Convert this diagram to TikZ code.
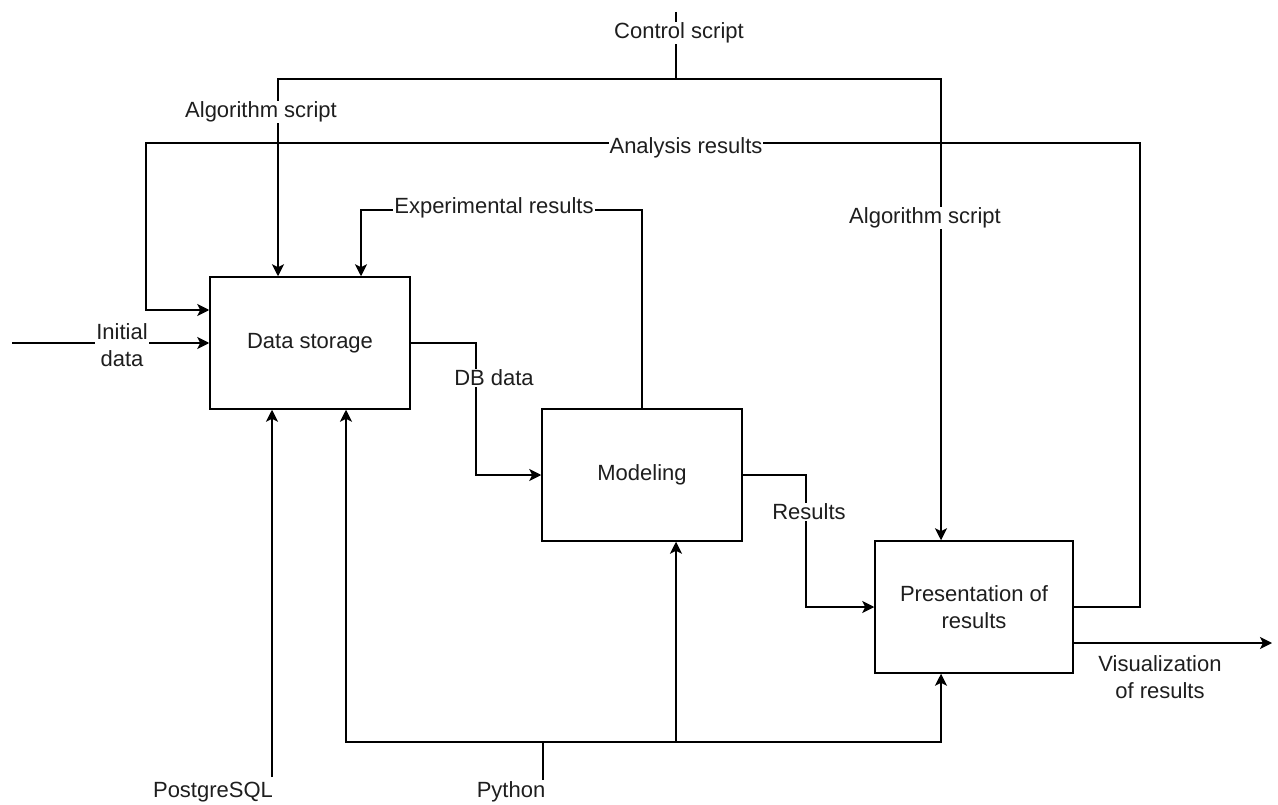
\documentclass[tikz,border=0pt]{standalone}
\usepackage{fontspec}
\setmainfont{Liberation Sans}
\usetikzlibrary{arrows.meta}
\definecolor{txt}{RGB}{30,30,30}
\begin{document}
\begin{tikzpicture}[x=1pt,y=-1pt,
  every node/.style={font=\fontsize{22}{27}\selectfont, text=txt},
  blk/.style={draw, line width=1.5pt, minimum width=200pt, minimum height=132pt, align=center, fill=white},
  lnk/.style={line width=1.5pt},
  arr/.style={lnk, -{Stealth[length=12pt,width=12pt,inset=3pt]}},
  lbl/.style={fill=white, inner sep=1pt, align=center}]
\useasboundingbox (0,0) rectangle (1278,805);

% activity boxes
\node[blk] (ds) at (310,343) {Data storage};
\node[blk] (mo) at (642,475) {Modeling};
\node[blk, minimum width=198pt] (pr) at (974,607) {Presentation of\\results};

% waypoints
\coordinate (inA) at (12,343);
\coordinate (ar1) at (1140,607);
\coordinate (ar2) at (1140,143);
\coordinate (ar3) at (146,143);
\coordinate (ar4) at (146,310);
\coordinate (cs0) at (676,12);
\coordinate (csj) at (676,79);
\coordinate (csL) at (278,79);
\coordinate (csR) at (941,79);
\coordinate (ex) at (361,210);
\coordinate (db) at (476,343);
\coordinate (rs) at (806,475);
\coordinate (vis) at (1272,643);
\coordinate (pg0) at (272,777);
\coordinate (py0) at (543,780);
\coordinate (pyj) at (543,742);
\coordinate (pyL) at (346,742);
\coordinate (pyM) at (676,742);
\coordinate (pyR) at (941,742);

% inputs
\draw[arr] (inA) -- (ds.west);
\draw[arr] (pr.east) -- (ar1) -- (ar2) -- (ar3) -- (ar4) -- (ar4 -| ds.west);

% controls
\draw[lnk] (cs0) -- (csj);
\draw[arr] (csj) -- (csL) -- (csL |- ds.north);
\draw[arr] (csj) -- (csR) -- (csR |- pr.north);
\draw[arr] (mo.north) -- (mo.north |- ex) -- (ex) -- (ex |- ds.north);

% flow between boxes
\draw[arr] (ds.east) -- (db) -- (db |- mo.west) -- (mo.west);
\draw[arr] (mo.east) -- (rs) -- (rs |- pr.west) -- (pr.west);
\draw[arr] (pr.east |- vis) -- (vis);

% mechanisms
\draw[arr] (pg0) -- (pg0 |- ds.south);
\draw[lnk] (py0) -- (pyj);
\draw[arr] (pyj) -- (pyL) -- (pyL |- ds.south);
\draw[arr] (pyj) -- (pyR) -- (pyR |- pr.south);
\draw[arr] (pyM) -- (pyM |- mo.south);

% labels
\node[lbl] (lcs) at (679,33) {Control script};
\node[lbl] (las1) at (261,112) {Algorithm script};
\node[lbl] (las2) at (925,218) {Algorithm script};
\node[lbl] (lar) at (686,148) {Analysis results};
\node[lbl] (lex) at (494,208) {Experimental results};
\node[lbl] (ldb) at (494,378) {DB data};
\node[lbl] (lres) at (809,512) {Results};
\node[lbl] (lin) at (122,345) {Initial\\data};
\node[align=center] (lvis) at (1160,677) {Visualization\\of results};
\node (lpg) at (213,792) {PostgreSQL};
\node (lpy) at (511,792) {Python};
\end{tikzpicture}
\end{document}
